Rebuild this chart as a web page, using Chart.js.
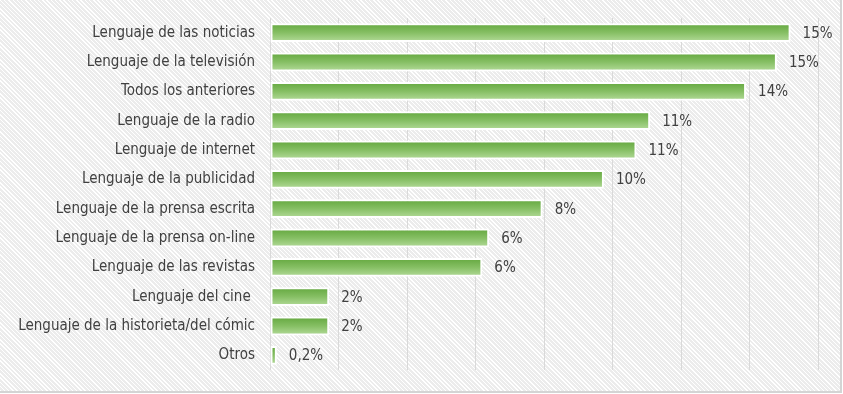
<!DOCTYPE html>
<html>
<head>
<meta charset="utf-8">
<script src="https://cdn.jsdelivr.net/npm/chart.js@4/dist/chart.umd.min.js"></script>
<style>
  html, body { margin: 0; padding: 0; }
  body { width: 843px; height: 394px; overflow: hidden; background: #fff; }
  #wrap {
    position: absolute; left: 0; top: 0; width: 840px; height: 391px;
    border-right: 2px solid #d4d4d4; border-bottom: 2px solid #d4d4d4;
    background-color: #f3f3f3;
    background-image: repeating-linear-gradient(45deg, #ffffff 0px, #ffffff 1px, #ececec 1px, #ececec 3px);
  }
  canvas { display: block; }
</style>
</head>
<body>
<div id="wrap"><canvas id="chart" width="840" height="391"></canvas></div>
<script>
// categories, top to bottom
const categories = [
  'Lenguaje de las noticias',
  'Lenguaje de la televisión',
  'Todos los anteriores',
  'Lenguaje de la radio',
  'Lenguaje de internet',
  'Lenguaje de la publicidad',
  'Lenguaje de la prensa escrita',
  'Lenguaje de la prensa on-line',
  'Lenguaje de las revistas',
  'Lenguaje del cine ',
  'Lenguaje de la historieta/del cómic',
  'Otros'
];
// bar lengths (percent)
const values = [15.2, 14.8, 13.9, 11.1, 10.7, 9.75, 7.96, 6.4, 6.2, 1.73, 1.73, 0.2];
// labels printed next to each bar
const valueLabels = ['15%', '15%', '14%', '11%', '11%', '10%', '8%', '6%', '6%', '2%', '2%', '0,2%'];

const FONT = "'DejaVu Sans Condensed', 'Liberation Sans Narrow', sans-serif";

// gradient per bar, dark green on top to light green below
function barFill(ctx) {
  const chart = ctx.chart;
  const yScale = chart.scales.y;
  if (!yScale || ctx.dataIndex === undefined) return '#8cc26a';
  const c = yScale.getPixelForValue(ctx.dataIndex);
  if (!isFinite(c)) return '#8cc26a';
  const half = 9;
  const g = chart.ctx.createLinearGradient(0, c - half, 0, c + half);
  g.addColorStop(0, '#64a83f');
  g.addColorStop(0.5, '#86bf64');
  g.addColorStop(1, '#b2da98');
  return g;
}

// draws the percent text just past the end of each bar
const endLabels = {
  id: 'endLabels',
  afterDatasetsDraw(chart) {
    const ctx = chart.ctx;
    const meta = chart.getDatasetMeta(0);
    ctx.save();
    ctx.font = '15px ' + FONT;
    ctx.fillStyle = '#404040';
    ctx.textAlign = 'left';
    ctx.textBaseline = 'middle';
    meta.data.forEach((bar, i) => {
      ctx.fillText(valueLabels[i], bar.x + 12, bar.y + 1);
    });
    ctx.restore();
  }
};

const chart = new Chart(document.getElementById('chart'), {
  type: 'bar',
  data: {
    labels: categories,
    datasets: [{
      data: values,
      backgroundColor: barFill,
      borderColor: '#ffffff',
      borderWidth: 2,
      borderSkipped: false,
      barPercentage: 0.64,
      categoryPercentage: 1
    }]
  },
  options: {
    indexAxis: 'y',
    responsive: false,
    animation: false,
    layout: { padding: { top: 18, right: 22, bottom: 21, left: 0 } },
    plugins: {
      legend: { display: false },
      tooltip: { enabled: false }
    },
    scales: {
      x: {
        min: 0,
        max: 16,
        ticks: { display: false, stepSize: 2 },
        grid: { color: '#d9d9d9', lineWidth: 1, drawTicks: false },
        border: { display: false }
      },
      y: {
        grid: { display: false, drawTicks: false },
        border: { display: false },
        ticks: {
          color: '#404040',
          font: { family: FONT, size: 15 },
          padding: 15
        },
        afterFit(scale) {
          scale.width = 270;
          scale.paddingTop = 0;
          scale.paddingBottom = 0;
        }
      }
    }
  },
  plugins: [endLabels]
});
chart.update();
</script>
</body>
</html>
